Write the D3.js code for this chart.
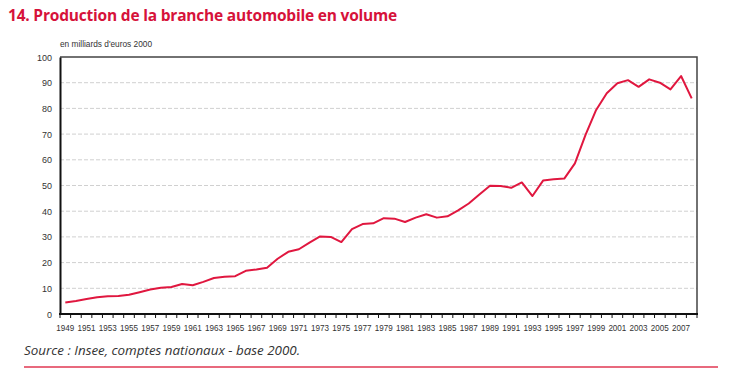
<!DOCTYPE html>
<html><head><meta charset="utf-8">
<script src="https://cdn.jsdelivr.net/npm/d3@7"></script>
<style>
html,body{margin:0;padding:0;background:#fff;}
svg{display:block;}
</style></head>
<body>
<svg id="c" width="737" height="383"></svg>
<script>
const years = d3.range(1949, 2009);
const values = [4.5,5.1,5.8,6.5,6.9,7.0,7.5,8.5,9.5,10.2,
 10.5,11.7,11.2,12.5,14.0,14.5,14.7,16.8,17.3,18.0,
 21.5,24.2,25.2,27.8,30.2,30.0,28.0,33.0,35.0,35.3,
 37.3,37.1,35.8,37.5,38.8,37.5,38.0,40.3,43.0,46.5,
 49.9,49.8,49.1,51.2,45.9,51.9,52.4,52.7,58.6,69.7,
 79.4,85.9,89.8,91.0,88.4,91.3,90.0,87.4,92.6,83.9];
const yTicks = [0,10,20,30,40,50,60,70,80,90,100];
const xLabels = years.filter((y,i)=>i%2===0);
const title = "14. Production de la branche automobile en volume";
const unit = "en milliards d'euros 2000";
const source = "Source : Insee, comptes nationaux - base 2000.";

const svg = d3.select("#c");
const L=60, R=697, T=57, B=314;
const x = d3.scaleBand().domain(years).range([L,R]);
const y = d3.scaleLinear().domain([0,100]).range([B,T]);
const narrow = "'Liberation Sans Narrow','Arial Narrow','Liberation Sans',sans-serif";

svg.append("text").attr("x",8).attr("y",21).text(title)
  .attr("fill","#d6123a").attr("font-family","'Open Sans','Liberation Sans',sans-serif")
  .attr("font-weight","bold").attr("font-size",15.5).attr("letter-spacing",-0.2);

svg.append("text").attr("x",60).attr("y",47).text(unit)
  .attr("font-family",narrow).attr("font-size",9).attr("fill","#333")
  .attr("textLength",92).attr("lengthAdjust","spacingAndGlyphs");

// grid
svg.append("g").selectAll("line").data(yTicks.filter(t=>t>0&&t<100)).join("line")
  .attr("x1",L).attr("x2",R).attr("y1",d=>y(d)).attr("y2",d=>y(d))
  .attr("stroke","#d0d0d0").attr("stroke-width",1).attr("stroke-dasharray","4,2");

// frame top/right
svg.append("path").attr("d",`M${L},${T}H${R}V${B}`).attr("fill","none").attr("stroke","#444").attr("stroke-width",1.5);

// y axis
const ya = svg.append("g").attr("transform",`translate(${L},0)`)
  .call(d3.axisLeft(y).tickValues(yTicks).tickSize(0).tickPadding(8));
ya.select(".domain").attr("stroke","#111").attr("stroke-width",2);
ya.selectAll("text").attr("font-family",narrow).attr("font-size",9.5).attr("fill","#333")
  .attr("textLength",d=>d>=100?15:(d>=10?10:5)).attr("lengthAdjust","spacingAndGlyphs");

// x axis
const xb = d3.scaleLinear().domain([0,years.length]).range([L,R]);
const xa = svg.append("g").attr("transform",`translate(0,${B})`);
xa.append("line").attr("x1",L-1).attr("x2",R+1).attr("stroke","#111").attr("stroke-width",2);
xa.selectAll("line.t").data(d3.range(0,years.length+1)).join("line").attr("class","t")
  .attr("x1",d=>xb(d)).attr("x2",d=>xb(d)).attr("y1",0).attr("y2",4).attr("stroke","#111").attr("stroke-width",1);
xa.selectAll("text").data(xLabels).join("text")
  .attr("x",d=>x(d)+x.bandwidth()/2).attr("y",17).attr("text-anchor","middle")
  .attr("font-family",narrow).attr("font-size",9.5).attr("fill","#333")
  .attr("textLength",18).attr("lengthAdjust","spacingAndGlyphs")
  .text(d=>d);

// line
const line = d3.line().x((d,i)=>x(years[i])+x.bandwidth()/2).y(d=>y(d));
svg.append("path").datum(values).attr("d",line).attr("fill","none")
  .attr("stroke","#e0173f").attr("stroke-width",2).attr("stroke-linejoin","round");

svg.append("text").attr("x",24).attr("y",355).text(source)
  .attr("font-family","'Open Sans','Liberation Sans',sans-serif").attr("font-style","italic")
  .attr("font-size",12.5).attr("fill","#333")
  .attr("textLength",276).attr("lengthAdjust","spacingAndGlyphs");

svg.append("line").attr("x1",24).attr("x2",718).attr("y1",367).attr("y2",367)
  .attr("stroke","#e8697d").attr("stroke-width",2);
</script>
</body></html>
